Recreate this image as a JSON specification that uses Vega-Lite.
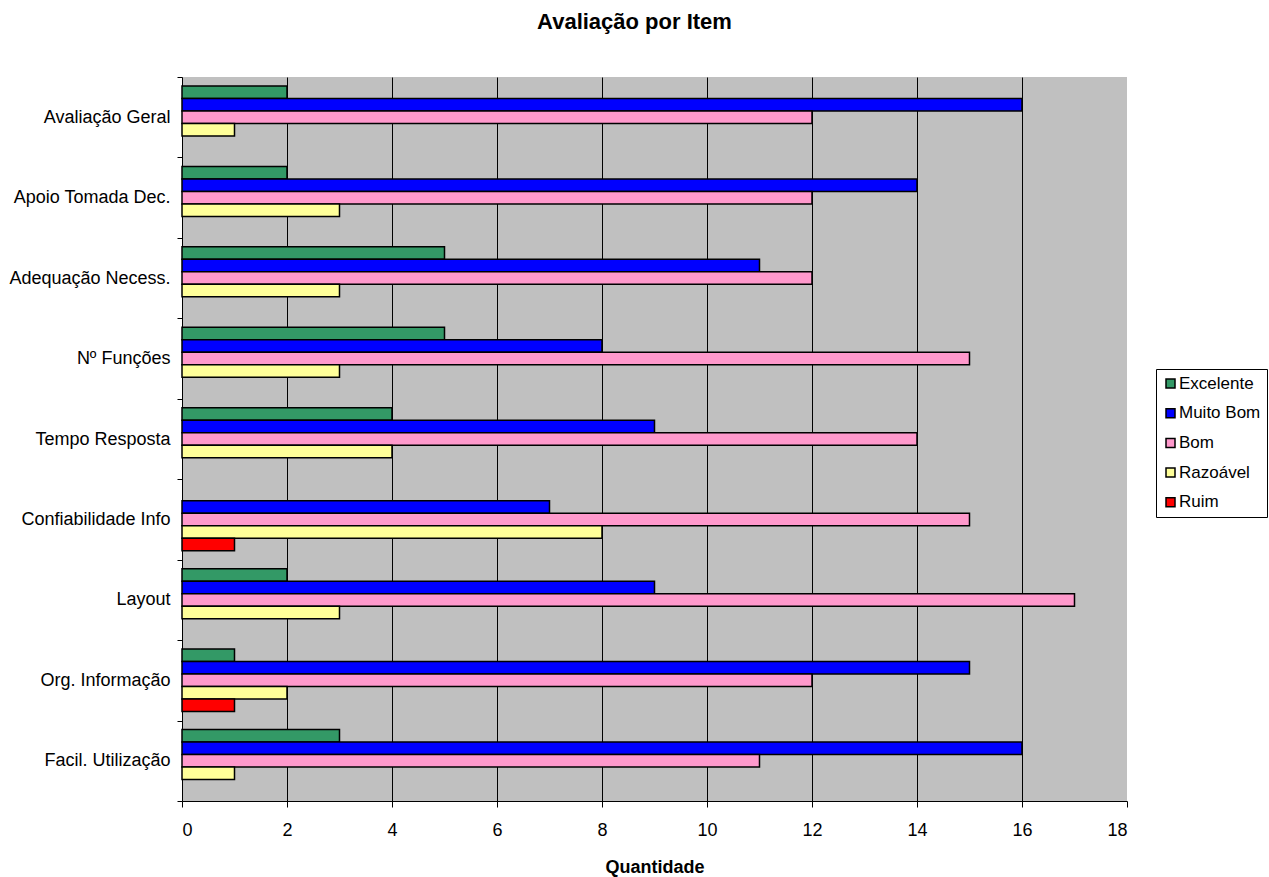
{
  "$schema": "https://vega.github.io/schema/vega-lite/v6.json",
  "width": 945,
  "height": 724,
  "autosize": {"type": "none"},
  "padding": {"left": 182, "top": 77, "right": 142, "bottom": 76},
  "background": "white",
  "config": {
    "view": {"fill": "#C0C0C0", "stroke": null},
    "font": "Liberation Sans"
  },
  "title": {
    "text": "Avaliação por Item",
    "fontSize": 22,
    "fontWeight": "bold",
    "font": "Liberation Sans",
    "color": "black",
    "anchor": "middle",
    "dx": -20,
    "offset": 34
  },
  "data": {
    "values": [
      {"item": "Avaliação Geral", "nivel": "Excelente", "value": 2},
      {"item": "Avaliação Geral", "nivel": "Muito Bom", "value": 16},
      {"item": "Avaliação Geral", "nivel": "Bom", "value": 12},
      {"item": "Avaliação Geral", "nivel": "Razoável", "value": 1},
      {"item": "Avaliação Geral", "nivel": "Ruim", "value": 0},
      {"item": "Apoio Tomada Dec.", "nivel": "Excelente", "value": 2},
      {"item": "Apoio Tomada Dec.", "nivel": "Muito Bom", "value": 14},
      {"item": "Apoio Tomada Dec.", "nivel": "Bom", "value": 12},
      {"item": "Apoio Tomada Dec.", "nivel": "Razoável", "value": 3},
      {"item": "Apoio Tomada Dec.", "nivel": "Ruim", "value": 0},
      {"item": "Adequação Necess.", "nivel": "Excelente", "value": 5},
      {"item": "Adequação Necess.", "nivel": "Muito Bom", "value": 11},
      {"item": "Adequação Necess.", "nivel": "Bom", "value": 12},
      {"item": "Adequação Necess.", "nivel": "Razoável", "value": 3},
      {"item": "Adequação Necess.", "nivel": "Ruim", "value": 0},
      {"item": "Nº Funções", "nivel": "Excelente", "value": 5},
      {"item": "Nº Funções", "nivel": "Muito Bom", "value": 8},
      {"item": "Nº Funções", "nivel": "Bom", "value": 15},
      {"item": "Nº Funções", "nivel": "Razoável", "value": 3},
      {"item": "Nº Funções", "nivel": "Ruim", "value": 0},
      {"item": "Tempo Resposta", "nivel": "Excelente", "value": 4},
      {"item": "Tempo Resposta", "nivel": "Muito Bom", "value": 9},
      {"item": "Tempo Resposta", "nivel": "Bom", "value": 14},
      {"item": "Tempo Resposta", "nivel": "Razoável", "value": 4},
      {"item": "Tempo Resposta", "nivel": "Ruim", "value": 0},
      {"item": "Confiabilidade Info", "nivel": "Excelente", "value": 0},
      {"item": "Confiabilidade Info", "nivel": "Muito Bom", "value": 7},
      {"item": "Confiabilidade Info", "nivel": "Bom", "value": 15},
      {"item": "Confiabilidade Info", "nivel": "Razoável", "value": 8},
      {"item": "Confiabilidade Info", "nivel": "Ruim", "value": 1},
      {"item": "Layout", "nivel": "Excelente", "value": 2},
      {"item": "Layout", "nivel": "Muito Bom", "value": 9},
      {"item": "Layout", "nivel": "Bom", "value": 17},
      {"item": "Layout", "nivel": "Razoável", "value": 3},
      {"item": "Layout", "nivel": "Ruim", "value": 0},
      {"item": "Org. Informação", "nivel": "Excelente", "value": 1},
      {"item": "Org. Informação", "nivel": "Muito Bom", "value": 15},
      {"item": "Org. Informação", "nivel": "Bom", "value": 12},
      {"item": "Org. Informação", "nivel": "Razoável", "value": 2},
      {"item": "Org. Informação", "nivel": "Ruim", "value": 1},
      {"item": "Facil. Utilização", "nivel": "Excelente", "value": 3},
      {"item": "Facil. Utilização", "nivel": "Muito Bom", "value": 16},
      {"item": "Facil. Utilização", "nivel": "Bom", "value": 11},
      {"item": "Facil. Utilização", "nivel": "Razoável", "value": 1},
      {"item": "Facil. Utilização", "nivel": "Ruim", "value": 0}
    ]
  },
  "transform": [{"filter": "datum.value > 0"}],
  "mark": {"type": "bar", "stroke": "black", "strokeWidth": 1.5},
  "encoding": {
    "y": {
      "field": "item",
      "type": "nominal",
      "sort": ["Avaliação Geral", "Apoio Tomada Dec.", "Adequação Necess.", "Nº Funções", "Tempo Resposta", "Confiabilidade Info", "Layout", "Org. Informação", "Facil. Utilização"],
      "scale": {"paddingInner": 0, "paddingOuter": 0},
      "axis": {
        "title": null,
        "tickBand": "extent",
        "grid": false,
        "domainColor": "black",
        "tickColor": "black",
        "tickSize": 5,
        "labelFontSize": 18,
        "labelColor": "black",
        "labelPadding": 7,
        "labelFont": "Liberation Sans"
      }
    },
    "yOffset": {
      "field": "nivel",
      "type": "nominal",
      "sort": ["Excelente", "Muito Bom", "Bom", "Razoável", "Ruim"],
      "scale": {"paddingInner": 0, "paddingOuter": 0.718}
    },
    "x": {
      "field": "value",
      "type": "quantitative",
      "scale": {"domain": [0, 18], "nice": false},
      "axis": {
        "values": [0, 2, 4, 6, 8, 10, 12, 14, 16, 18],
        "grid": true,
        "gridColor": "black",
        "gridWidth": 1,
        "gridOpacity": {"condition": {"test": "datum.value == 18 || datum.value == 0", "value": 0}, "value": 1},
        "domainColor": "black",
        "tickColor": "black",
        "tickSize": 6,
        "labelFontSize": 18,
        "labelColor": "black",
        "labelPadding": 14,
        "labelFont": "Liberation Sans",
        "title": "Quantidade",
        "titleFontSize": 18,
        "titleFontWeight": "bold",
        "titleColor": "black",
        "titlePadding": 19,
        "titleFont": "Liberation Sans"
      }
    },
    "color": {
      "field": "nivel",
      "type": "nominal",
      "sort": ["Excelente", "Muito Bom", "Bom", "Razoável", "Ruim"],
      "scale": {
        "domain": ["Excelente", "Muito Bom", "Bom", "Razoável", "Ruim"],
        "range": ["#339966", "#0000FF", "#FF99CC", "#FFFF99", "#FF0000"]
      },
      "legend": {
        "title": null,
        "orient": "none",
        "legendX": 974,
        "legendY": 292,
        "strokeColor": "black",
        "fillColor": "white",
        "padding": 6,
        "symbolType": "square",
        "symbolSize": 81,
        "symbolStrokeColor": "black",
        "symbolStrokeWidth": 1.5,
        "symbolOpacity": 1,
        "labelFontSize": 17,
        "labelColor": "black",
        "labelFont": "Liberation Sans",
        "labelOffset": 0,
        "rowPadding": 11.7
      }
    }
  }
}
